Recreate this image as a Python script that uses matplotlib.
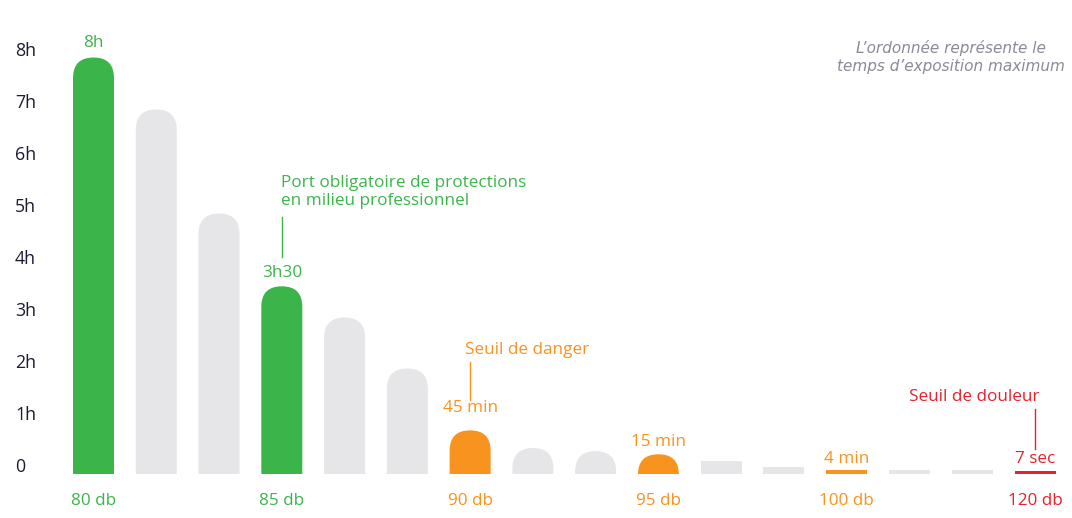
import matplotlib
matplotlib.use("Agg")
import matplotlib.pyplot as plt
from matplotlib.patches import FancyBboxPatch, Rectangle
from matplotlib.transforms import offset_copy

# temps d'exposition maximum (heures), tel que dessiné
hours = [8.0, 7.0, 5.0, 3.6, 3.0, 2.02, 0.83, 0.49, 0.43, 0.37, 0.25, 0.13, 0.06, 0.065, 0.065, 0.04]
kinds = ["g", "n", "n", "g", "n", "n", "o", "n", "n", "o", "n", "n", "o", "n", "n", "r"]
db_pos = [0, 3, 6, 9, 12, 15]
db_labels = ["80 db", "85 db", "90 db", "95 db", "100 db", "120 db"]
value_pos = [0, 3, 6, 9, 12, 15]
value_labels = ["8h", "3h30", "45 min", "15 min", "4 min", "7 sec"]
ytick_vals = [0, 1, 2, 3, 4, 5, 6, 7, 8]
ytick_labels = ["0", "1h", "2h", "3h", "4h", "5h", "6h", "7h", "8h"]

colors = {"g": "#3bb54a", "n": "#e6e6e8", "o": "#f7931e", "r": "#e8202e"}

W, H, DPI = 1072, 518, 100
fig = plt.figure(figsize=(W / DPI, H / DPI), dpi=DPI)
plt.rcParams["font.family"] = ["Open Sans", "DejaVu Sans"]

step = 62.77           # px between bars
x0_px = 93.5           # centre of first bar
ax_left, ax_bottom, ax_top = 60, 473.5, 15
px_per_h = 52.0
ax = fig.add_axes([ax_left / W, (H - ax_bottom) / H, (W - ax_left) / W, (ax_bottom - ax_top) / H])
ax.set_xlim((ax_left - x0_px) / step, (W - x0_px) / step)
ax.set_ylim(0, (ax_bottom - ax_top) / px_per_h)
for s in ax.spines.values():
    s.set_visible(False)

bw = 41 / step
r_y = 20.5 / px_per_h
aspect = r_y / (bw / 2)
for i, (h, k) in enumerate(zip(hours, kinds)):
    c = colors[k]
    if h > 0.3:
        p = FancyBboxPatch((i - bw / 2, -5), bw, h + 5,
                           boxstyle="round,pad=0,rounding_size=%f" % (bw / 2),
                           mutation_aspect=aspect, fc=c, ec="none")
    else:
        p = Rectangle((i - bw / 2, 0), bw, h, fc=c, ec="none")
    ax.add_patch(p)

# axes ticks
ax.set_yticks(ytick_vals)
ax.set_yticklabels(ytick_labels, fontsize=12.8, color="#1c1c33")
ax.tick_params(axis="y", length=0, pad=45 * 72 / DPI)
for lab in ax.get_yticklabels():
    lab.set_horizontalalignment("left")
    lab.set_transform(offset_copy(lab.get_transform(), fig, y=8, units="dots"))

ax.set_xticks(db_pos)
ax.set_xticklabels(db_labels, fontsize=12.3)
ax.tick_params(axis="x", length=0, pad=14)
for lab, p in zip(ax.get_xticklabels(), db_pos):
    lab.set_color(colors[kinds[p]])

# value labels above bars
val_dy = [14, 13, 22, 12, 11, 12]
for p, txt, dy in zip(value_pos, value_labels, val_dy):
    tr = offset_copy(ax.transData, fig, x=0, y=dy, units="dots")
    ax.text(p, hours[p], txt, transform=tr, ha="center", va="center",
            fontsize=12.3, color=colors[kinds[p]])

# annotations with leader lines
notes = [
    (3, "Port obligatoire de protections\nen milieu professionnel", 29, 69, 94, -1, "left"),
    (6, "Seuil de danger", 30, 68, 80, -5.5, "left"),
    (15, "Seuil de douleur", 22, 62, 74, 4, "right"),
]
for p, txt, y0, y1, ty, tx, ha in notes:
    c = colors[kinds[p]]
    top_px = ax.transData.transform((p, hours[p]))
    inv = ax.transData.inverted()
    ya = inv.transform((top_px[0], top_px[1] + y0))[1]
    yb = inv.transform((top_px[0], top_px[1] + y1))[1]
    ax.plot([p, p], [ya, yb], color=c, lw=1)
    tr = offset_copy(ax.transData, fig, x=tx, y=ty, units="dots")
    ax.text(p, hours[p], txt, transform=tr, ha=ha, va="center",
            fontsize=12.3, color=c, linespacing=1.15)

fig.text(951 / W, 1 - 57 / H, "L’ordonnée représente le\ntemps d’exposition maximum",
         ha="center", va="center", multialignment="center", fontsize=11,
         style="italic", color="#8a8a98", linespacing=1.3, family="DejaVu Sans")

fig.savefig("out.png", dpi=DPI)
